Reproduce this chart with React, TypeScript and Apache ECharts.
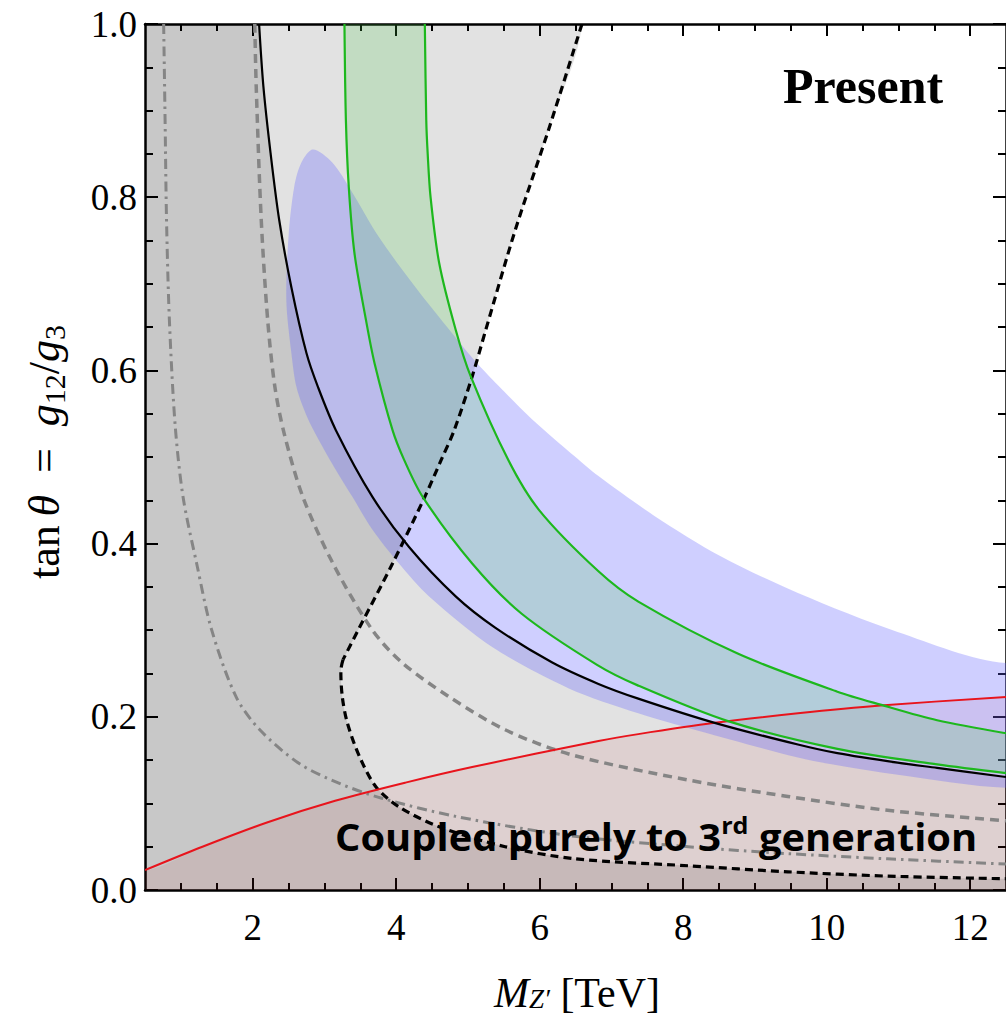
import React, { useEffect, useRef } from "react";
import * as echarts from "echarts";

// ---------- axis ticks ----------
const xMajorTicks = [2, 4, 6, 8, 10, 12];
const xMinorTicks = [1, 1.5, 2, 2.5, 3, 3.5, 4, 4.5, 5, 5.5, 6, 6.5, 7, 7.5, 8, 8.5, 9, 9.5, 10, 10.5, 11, 11.5, 12];

// ---------- curves ----------
const blackSolidX = [2.09, 2.15, 2.25, 2.37, 2.54, 2.75, 2.91, 3.16, 3.67, 4.18, 4.83, 5.38, 6.17, 6.82, 7.375, 8.44, 9.6, 10.15, 10.99, 11.54, 12.5];
const blackSolidY = [1.0, 0.928, 0.851, 0.774, 0.696, 0.62, 0.581, 0.531, 0.454, 0.396, 0.339, 0.303, 0.263, 0.238, 0.221, 0.193, 0.168, 0.158, 0.147, 0.141, 0.1305];

const grayDashX = [2.03, 2.05, 2.12, 2.21, 2.31, 2.44, 2.7, 3.12, 3.67, 4.09, 4.74, 5.52, 6.45, 8.07, 9.46, 10.85, 12.5];
const grayDashY = [1.0, 0.928, 0.774, 0.658, 0.581, 0.527, 0.454, 0.377, 0.3, 0.262, 0.223, 0.185, 0.156, 0.127, 0.108, 0.092, 0.08];

const dashDotX = [0.76, 0.78, 0.8, 0.84, 0.92, 1.03, 1.22, 1.43, 1.77, 2.1, 2.65, 3.21, 3.8, 4.83, 6.4, 8.07, 9.46, 10.85, 12.5];
const dashDotY = [1.0, 0.889, 0.774, 0.658, 0.537, 0.454, 0.377, 0.3, 0.223, 0.185, 0.146, 0.123, 0.106, 0.085, 0.063, 0.05, 0.042, 0.036, 0.03];

const boundUpperX = [6.59, 6.125, 5.66, 5.25, 5.06, 4.81, 4.63, 4.4, 3.95, 3.47, 3.26];
const boundUpperY = [1.0, 0.878, 0.762, 0.647, 0.593, 0.531, 0.497, 0.454, 0.377, 0.3, 0.266];
const boundLowerX = [3.26, 3.23, 3.25, 3.32, 3.49, 3.72, 4.04, 4.6, 5.52, 6.5, 8.07, 9.46, 10.85, 12.5];
const boundLowerY = [0.266, 0.254, 0.223, 0.193, 0.154, 0.119, 0.096, 0.073, 0.05, 0.036, 0.028, 0.021, 0.016, 0.013];

const redX = [0.5, 1.3, 2.2, 3.15, 4.13, 5.06, 6.82, 7.375, 8.44, 9.6, 10.75, 12.5];
const redY = [0.023, 0.05, 0.078, 0.103, 0.124, 0.142, 0.172, 0.18, 0.193, 0.204, 0.213, 0.223];

const greenLX = [3.28, 3.3, 3.34, 3.42, 3.58, 3.7, 3.95, 4.11, 4.37, 5.06, 5.75, 6.8, 7.375, 8.625, 10.15, 11.54, 12.5];
const greenLY = [1.0, 0.889, 0.812, 0.735, 0.658, 0.608, 0.531, 0.497, 0.454, 0.377, 0.319, 0.26, 0.236, 0.195, 0.163, 0.145, 0.135];
const greenRX = [4.4, 4.42, 4.44, 4.48, 4.6, 4.83, 5.04, 5.56, 5.99, 6.82, 7.375, 8.76, 10.15, 10.75, 11.54, 12.5];
const greenRY = [1.0, 0.889, 0.85, 0.8, 0.724, 0.647, 0.593, 0.497, 0.439, 0.368, 0.333, 0.273, 0.229, 0.214, 0.196, 0.181];

const blueUpperX = [2.84, 3.11, 3.37, 3.76, 4.27, 4.78, 5.11, 5.43, 5.89, 6.5, 6.82, 7.6, 8.53, 9.6, 10.99, 12.5];
const blueUpperY = [0.855, 0.84, 0.808, 0.754, 0.696, 0.643, 0.61, 0.582, 0.544, 0.5, 0.478, 0.432, 0.385, 0.343, 0.298, 0.262];
const blueLowerX = [12.5, 10.99, 10.15, 9.6, 8.21, 7.375, 6.4, 5.35, 4.46, 4.04, 3.67, 3.39, 3.16, 2.92, 2.75, 2.61, 2.54, 2.47, 2.5, 2.58, 2.68];
const blueLowerY = [0.118, 0.133, 0.144, 0.153, 0.184, 0.204, 0.233, 0.28, 0.339, 0.377, 0.416, 0.454, 0.485, 0.52, 0.548, 0.581, 0.62, 0.68, 0.754, 0.812, 0.84];

// ---------- styling ----------
const SERIF = '"Liberation Serif", "Times New Roman", serif';
const SANS = '"Open Sans", "Noto Sans", sans-serif';

type P = number[];
const toPx = (api: any, xs: number[], ys: number[]): P[] => xs.map((x, i) => api.coord([x, ys[i]]));

function area(build: (api: any, b: any) => P[], fill: string) {
  return {
    type: "custom",
    coordinateSystem: "cartesian2d",
    data: [[6, 0.5]],
    clip: true,
    silent: true,
    renderItem: (params: any, api: any) => {
      const cs = params.coordSys;
      const b = { L: cs.x - 300, R: cs.x + cs.width + 300, T: cs.y - 300, B: cs.y + cs.height + 300 };
      return { type: "polygon", shape: { points: build(api, b), smooth: 0.3 }, style: { fill } };
    },
  };
}

function curve(xs: number[], ys: number[], stroke: string, lineWidth: number, lineDash?: number[]) {
  return {
    type: "custom",
    coordinateSystem: "cartesian2d",
    data: [[6, 0.5]],
    clip: true,
    silent: true,
    renderItem: (_p: any, api: any) => ({
      type: "polyline",
      shape: { points: toPx(api, xs, ys), smooth: 0.3 },
      style: { stroke, lineWidth, lineDash: lineDash || null, fill: "none", lineCap: "butt", lineJoin: "round" },
    }),
  };
}

const last = (a: P[]) => a[a.length - 1];

function measure(text: string, font: string) {
  const c = document.createElement("canvas").getContext("2d")!;
  c.font = font;
  return c.measureText(text).width;
}

export default function App() {
  const ref = useRef<HTMLDivElement>(null);
  useEffect(() => {
    const chart = echarts.init(ref.current!, null, { renderer: "svg" });

    const cFont = 38;
    const supFont = 24;
    const wMain =
      measure("Coupled purely to 3", `bold ${cFont}px ${SANS}`) +
      measure(" generation", `bold ${cFont}px ${SANS}`) +
      measure("rd", `bold ${supFont}px ${SANS}`);
    const coupledScale = 642 / wMain;

    const gray = "rgba(0,0,0,0.115)";

    const series: any[] = [
      area((api, b) => {
        const p = toPx(api, blackSolidX, blackSolidY);
        return [[p[0][0], b.T], ...p, [b.R, last(p)[1]], [b.R, b.B], [b.L, b.B], [b.L, b.T]];
      }, gray),
      area((api, b) => {
        const u = toPx(api, boundUpperX, boundUpperY);
        const l = toPx(api, boundLowerX, boundLowerY);
        return [[u[0][0], b.T], ...u, ...l, [b.R, last(l)[1]], [b.R, b.B], [b.L, b.B], [b.L, b.T]];
      }, gray),
      area((api, b) => {
        const p = toPx(api, redX, redY);
        return [[b.L, p[0][1]], ...p, [b.R, last(p)[1]], [b.R, b.B], [b.L, b.B]];
      }, "rgba(190,30,30,0.09)"),
      area((api, b) => {
        const u = toPx(api, blueUpperX, blueUpperY);
        const l = toPx(api, blueLowerX, blueLowerY);
        return [...u, [b.R, last(u)[1]], [b.R, l[0][1]], ...l];
      }, "rgba(95,95,255,0.3)"),
      area((api, b) => {
        const gl = toPx(api, greenLX, greenLY);
        const gr = toPx(api, greenRX, greenRY);
        const grr = [...gr].reverse();
        return [[gl[0][0], b.T], ...gl, [b.R, last(gl)[1]], [b.R, last(gr)[1]], ...grr, [gr[0][0], b.T]];
      }, "rgba(70,200,70,0.2)"),
      curve(dashDotX, dashDotY, "#858585", 3, [10, 5, 2.5, 5]),
      curve(grayDashX, grayDashY, "#858585", 3.5, [9, 6]),
      curve(boundUpperX, boundUpperY, "#000", 3.2, [8, 5]),
      curve(boundLowerX, boundLowerY, "#000", 3.2, [8, 5]),
      curve(redX, redY, "#e8141c", 2),
      curve(blackSolidX, blackSolidY, "#000", 2.2),
      curve(greenLX, greenLY, "#1db81d", 2.2),
      curve(greenRX, greenRY, "#1db81d", 2.2),
    ];

    const tickStyle = { color: "#000", width: 2 };
    const labelFont = { fontFamily: SERIF, fontSize: 37, color: "#000" };

    const xBase = { type: "value", min: 0.5, max: 12.5, gridIndex: 0, splitLine: { show: false } };

    const option: any = {
      animation: false,
      backgroundColor: "#fff",
      grid: { left: 145, top: 24, width: 864, height: 866, containLabel: false },
      xAxis: [
        {
          ...xBase,
          position: "bottom",
          axisLine: { onZero: false, lineStyle: { color: "#000", width: 2.5 } },
          axisTick: { inside: true, length: 12, customValues: xMajorTicks, lineStyle: tickStyle },
          axisLabel: { customValues: xMajorTicks, margin: 19, formatter: (v: number) => String(v), ...labelFont },
        },
        {
          ...xBase,
          position: "bottom",
          axisLine: { show: false, onZero: false },
          axisTick: { inside: true, length: 7, customValues: xMinorTicks, lineStyle: tickStyle },
          axisLabel: { show: false },
        },
        {
          ...xBase,
          position: "top",
          axisLine: { onZero: false, lineStyle: { color: "#000", width: 2.5 } },
          axisTick: { inside: true, length: 12, customValues: xMajorTicks, lineStyle: tickStyle },
          axisLabel: { show: false },
        },
        {
          ...xBase,
          position: "top",
          axisLine: { show: false, onZero: false },
          axisTick: { inside: true, length: 7, customValues: xMinorTicks, lineStyle: tickStyle },
          axisLabel: { show: false },
        },
      ],
      yAxis: [
        {
          type: "value",
          min: 0,
          max: 1,
          interval: 0.2,
          position: "left",
          splitLine: { show: false },
          axisLine: { onZero: false, lineStyle: { color: "#000", width: 2.5 } },
          axisTick: { inside: true, length: 13, lineStyle: tickStyle },
          minorTick: { show: true, splitNumber: 4, length: 8, lineStyle: tickStyle },
          axisLabel: { margin: 8, formatter: (v: number) => v.toFixed(1), ...labelFont },
        },
        {
          type: "value",
          min: 0,
          max: 1,
          interval: 0.2,
          position: "right",
          splitLine: { show: false },
          axisLine: { onZero: false, lineStyle: { color: "#000", width: 2.5 } },
          axisTick: { inside: true, length: 13, lineStyle: tickStyle },
          minorTick: { show: true, splitNumber: 4, length: 8, lineStyle: tickStyle },
          axisLabel: { show: false },
        },
      ],
      series,
      graphic: [
        {
          type: "text",
          x: 44,
          y: 452,
          rotation: Math.PI / 2,
          z: 100,
          style: {
            text: "{n|tan\u2009}{i|θ}{n|\u2002=\u2002}{i|g}{s|12}{n|/}{i|g}{s|3}",
            align: "center",
            verticalAlign: "middle",
            rich: {
              n: { fontFamily: SERIF, fontSize: 44, lineHeight: 50, fill: "#000" },
              i: { fontFamily: SERIF, fontSize: 44, lineHeight: 50, fontStyle: "italic", fill: "#000" },
              s: { fontFamily: SERIF, fontSize: 30, lineHeight: 30, verticalAlign: "bottom", fill: "#000" },
            },
          },
        },
        {
          type: "text",
          x: 577,
          y: 993,
          z: 100,
          style: {
            text: "{i|M}{s|Z′}{n| [TeV]}",
            align: "center",
            verticalAlign: "middle",
            rich: {
              n: { fontFamily: SERIF, fontSize: 42, lineHeight: 38, fill: "#000" },
              i: { fontFamily: SERIF, fontSize: 42, lineHeight: 38, fontStyle: "italic", fill: "#000" },
              s: { fontFamily: SERIF, fontSize: 27, lineHeight: 22, fontStyle: "italic", verticalAlign: "bottom", fill: "#000" },
            },
          },
        },
        {
          type: "text",
          x: 783,
          y: 86,
          z: 100,
          style: {
            text: "Present",
            fontFamily: SERIF,
            fontWeight: "bold",
            fontSize: 50,
            fill: "#000",
            align: "left",
            verticalAlign: "middle",
          },
        },
        {
          type: "text",
          x: 335,
          y: 836,
          z: 100,
          scaleX: coupledScale,
          style: {
            text: "{b|Coupled purely to 3}{p|rd}{b| generation}",
            align: "left",
            verticalAlign: "middle",
            rich: {
              b: { fontFamily: SANS, fontWeight: "bold", fontSize: cFont, lineHeight: 46, fill: "#000" },
              p: { fontFamily: SANS, fontWeight: "bold", fontSize: supFont, lineHeight: 30, verticalAlign: "top", fill: "#000" },
            },
          },
        },
      ],
    };

    chart.setOption(option);
    return () => chart.dispose();
  }, []);

  return (
    <div
      ref={ref}
      style={{ position: "absolute", left: 0, top: 0, width: 1006, height: 1019, background: "#fff" }}
    />
  );
}
